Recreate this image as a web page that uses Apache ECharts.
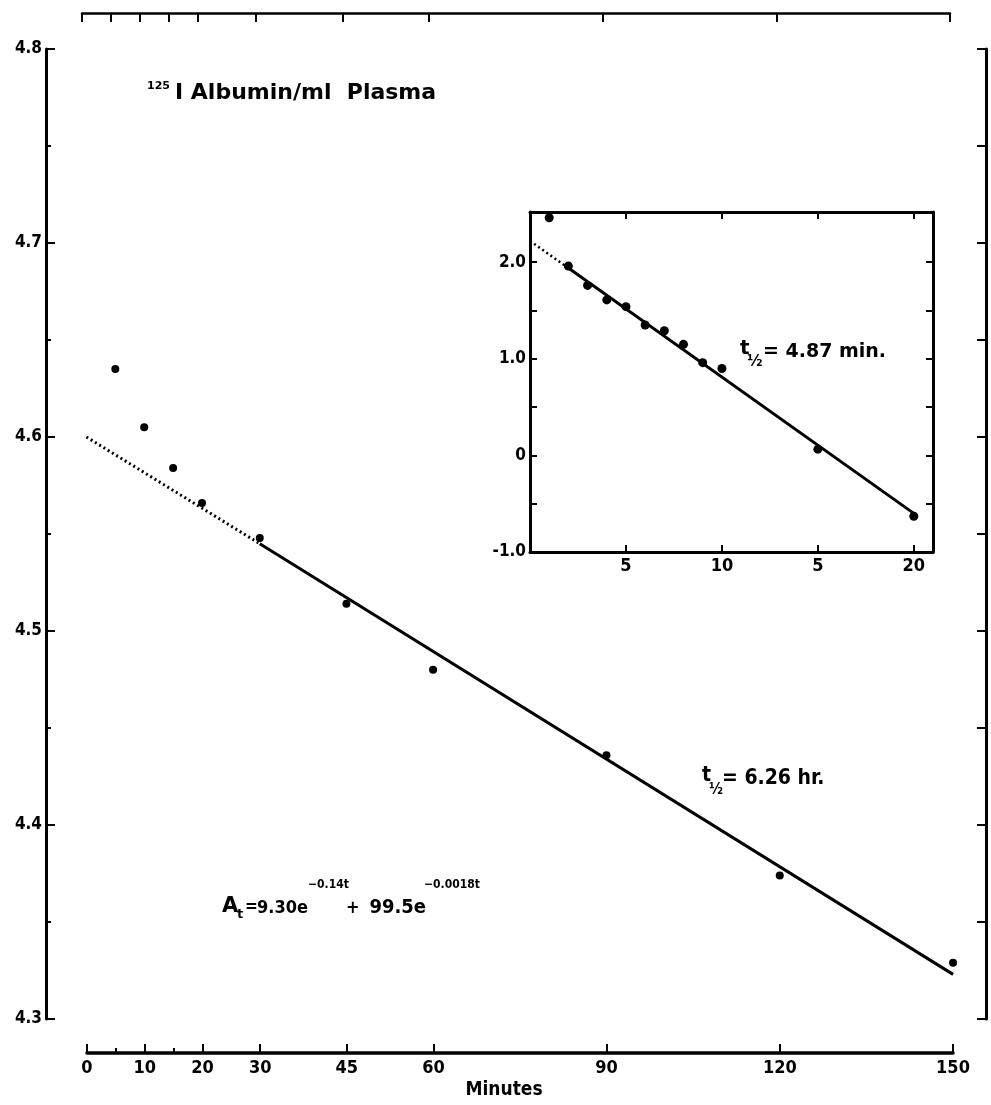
<!DOCTYPE html>
<html><head><meta charset="utf-8">
<script src="https://cdn.jsdelivr.net/npm/echarts@6/dist/echarts.min.js"></script>
<style>html,body{margin:0;padding:0;background:#fff}#c{width:991px;height:1105px}</style>
</head><body><div id="c"></div>
<script>
// ---- main plot data (ln 125I albumin / ml plasma vs minutes) ----
const mainMinutes = [5, 10, 15, 20, 30, 45, 60, 90, 120, 150];
const mainValues  = [4.635, 4.605, 4.584, 4.566, 4.548, 4.514, 4.480, 4.436, 4.374, 4.329];
const mainFitDotted = [[0, 4.600], [30, 4.545]];
const mainFitSolid  = [[30, 4.545], [150, 4.323]];
const mainMinorTicks = [4.35, 4.45, 4.55, 4.65, 4.75];
const timeTickValues  = [0, 5, 10, 15, 20, 30, 45, 60, 90, 120, 150];
const timeLabelValues = [0, 10, 20, 30, 45, 60, 90, 120, 150];
const timeMinorTicks  = [5, 15];

// ---- inset data ----
const insetMinutes = [1, 2, 3, 4, 5, 6, 7, 8, 9, 10, 15, 20];
const insetValues  = [2.46, 1.96, 1.76, 1.61, 1.54, 1.35, 1.29, 1.15, 0.96, 0.90, 0.065, -0.63];
const insetFitDotted = [[0, 2.22], [2, 1.94]];
const insetFitSolid  = [[2, 1.94], [20, -0.60]];
const insetXTickValues = [5, 10, 15, 20];
const insetXTickLabels = ['5', '10', '5', '20'];
const insetYTickValues = [-0.5, 0, 0.5, 1, 1.5, 2];
const insetYLabelValues = [-1, 0, 1, 2];
const insetYLabels = ['-1.0', '0', '1.0', '2.0'];

const WIDE = "'DejaVu Sans', sans-serif";
const COND = "'DejaVu Sans Condensed', 'DejaVu Sans', sans-serif";
const K = '#000';

const chart = echarts.init(document.getElementById('c'), null, {renderer: 'canvas'});

function txt(text, x, y, font, align) {
  return {
    type: 'text', x: x, y: y, z: 100,
    style: {text: text, fill: K, font: 'bold ' + font,
            textAlign: align || 'left', textVerticalAlign: 'middle'}
  };
}

const lineAxis = (w) => ({show: true, onZero: false, lineStyle: {color: K, width: w}});
const G = (o) => Object.assign({outerBoundsMode: 'none', containLabel: false}, o);
const hiddenY = (gi) => ({gridIndex: gi, type: 'value', min: 0, max: 1, show: false});
const hiddenX = (gi) => ({gridIndex: gi, type: 'value', min: 0, max: 1, show: false});
const tickStyle = {color: K, width: 2};

const option = {
  backgroundColor: '#fff',
  animation: false,
  grid: [
    G({left: 46, right: 5, top: 49, bottom: 86}),      // main
    G({left: 82, right: 41, top: 13, height: 30}),     // top time axis
    G({left: 87, right: 38, top: 1000, bottom: 52}),   // bottom time axis
    G({left: 87, right: 38, top: 1000, bottom: 52}),   // bottom minor ticks
    G({left: 530, right: 58, top: 212, bottom: 553}),  // inset
    G({left: 46, right: 5, top: 49, bottom: 86})       // main left minor ticks
  ],
  xAxis: [
    {gridIndex: 0, type: 'value', min: -7.0, max: 155.7, show: false},
    {gridIndex: 1, type: 'value', position: 'top', min: 0, max: 150,
     axisLine: lineAxis(2.5), splitLine: {show: false},
     axisTick: {show: true, inside: true, length: 9, lineStyle: tickStyle, customValues: timeTickValues},
     axisLabel: {show: false}},
    {gridIndex: 2, type: 'value', position: 'bottom', min: 0, max: 150,
     axisLine: lineAxis(3.5), splitLine: {show: false},
     axisTick: {show: true, inside: true, length: 9, lineStyle: tickStyle, customValues: timeLabelValues},
     axisLabel: {show: true, customValues: timeLabelValues, margin: 6, color: K,
                 fontFamily: COND, fontWeight: 'bold', fontSize: 18}},
    {gridIndex: 3, type: 'value', position: 'bottom', min: 0, max: 150,
     axisLine: {show: false, onZero: false}, splitLine: {show: false},
     axisTick: {show: true, inside: true, length: 5, lineStyle: tickStyle, customValues: timeMinorTicks},
     axisLabel: {show: false}},
    {gridIndex: 4, type: 'value', position: 'bottom', min: 0, max: 21,
     axisLine: lineAxis(3), splitLine: {show: false},
     axisTick: {show: true, inside: true, length: 7, lineStyle: tickStyle, customValues: insetXTickValues},
     axisLabel: {show: true, customValues: insetXTickValues, margin: 5, color: K,
                 fontFamily: COND, fontWeight: 'bold', fontSize: 18,
                 formatter: v => insetXTickLabels[insetXTickValues.indexOf(v)]}},
    {gridIndex: 4, type: 'value', position: 'top', min: 0, max: 21,
     axisLine: lineAxis(3), splitLine: {show: false},
     axisTick: {show: true, inside: true, length: 7, lineStyle: tickStyle, customValues: insetXTickValues},
     axisLabel: {show: false}},
    hiddenX(5)
  ],
  yAxis: [
    {gridIndex: 0, type: 'value', position: 'left', min: 4.3, max: 4.8, interval: 0.1,
     axisLine: lineAxis(3), splitLine: {show: false},
     axisTick: {show: true, inside: true, length: 9, lineStyle: tickStyle},
     axisLabel: {show: true, margin: 4, color: K, fontFamily: COND, fontWeight: 'bold', fontSize: 17,
                 formatter: v => v.toFixed(1)}},
    {gridIndex: 0, type: 'value', position: 'right', min: 4.3, max: 4.8, interval: 0.05,
     axisLine: lineAxis(3), splitLine: {show: false},
     axisTick: {show: true, inside: true, length: 9, lineStyle: tickStyle},
     axisLabel: {show: false}},
    {gridIndex: 4, type: 'value', position: 'left', min: -1, max: 2.52,
     axisLine: lineAxis(3), splitLine: {show: false},
     axisTick: {show: true, inside: true, length: 7, lineStyle: tickStyle, customValues: insetYTickValues},
     axisLabel: {show: true, customValues: insetYLabelValues, margin: 4, color: K,
                 fontFamily: COND, fontWeight: 'bold', fontSize: 17,
                 formatter: v => insetYLabels[insetYLabelValues.indexOf(v)]}},
    {gridIndex: 4, type: 'value', position: 'right', min: -1, max: 2.52,
     axisLine: lineAxis(3), splitLine: {show: false},
     axisTick: {show: true, inside: true, length: 7, lineStyle: tickStyle, customValues: insetYTickValues},
     axisLabel: {show: false}},
    hiddenY(1), hiddenY(2), hiddenY(3),
    {gridIndex: 5, type: 'value', position: 'left', min: 4.3, max: 4.8,
     axisLine: {show: false, onZero: false}, splitLine: {show: false},
     axisTick: {show: true, inside: true, length: 5, lineStyle: tickStyle, customValues: mainMinorTicks},
     axisLabel: {show: false}}
  ],
  series: [
    {type: 'scatter', xAxisIndex: 0, yAxisIndex: 0, symbol: 'circle', symbolSize: 8,
     itemStyle: {color: K, opacity: 1}, data: mainMinutes.map((m, i) => [m, mainValues[i]]), z: 5},
    {type: 'line', xAxisIndex: 0, yAxisIndex: 0, showSymbol: false, symbol: 'none',
     lineStyle: {color: K, width: 3, type: [2, 3]}, data: mainFitDotted},
    {type: 'line', xAxisIndex: 0, yAxisIndex: 0, showSymbol: false, symbol: 'none',
     lineStyle: {color: K, width: 3}, data: mainFitSolid},
    {type: 'scatter', xAxisIndex: 4, yAxisIndex: 2, symbol: 'circle', symbolSize: 9,
     itemStyle: {color: K, opacity: 1}, data: insetMinutes.map((m, i) => [m, insetValues[i]]), z: 5},
    {type: 'line', xAxisIndex: 4, yAxisIndex: 2, showSymbol: false, symbol: 'none',
     lineStyle: {color: K, width: 2.5, type: [2, 3]}, data: insetFitDotted},
    {type: 'line', xAxisIndex: 4, yAxisIndex: 2, showSymbol: false, symbol: 'none',
     lineStyle: {color: K, width: 3}, data: insetFitSolid}
  ],
  graphic: [
    // title
    txt('125', 147, 86, '11px ' + WIDE),
    txt('I Albumin/ml  Plasma', 175, 93, '22px ' + WIDE),
    // inset half-life
    txt('t', 740, 349, '20px ' + WIDE),
    txt('½', 747, 362, '15px ' + WIDE),
    txt('= 4.87 min.', 763, 352, '19px ' + WIDE),
    // main half-life
    txt('t', 702, 776, '21px ' + COND),
    txt('½', 709, 790, '15px ' + COND),
    txt('= 6.26 hr.', 722, 779, '21px ' + COND),
    // equation
    txt('A', 222, 907, '21px ' + WIDE),
    txt('t', 237, 915, '13px ' + WIDE),
    txt('=', 245, 908, '17px ' + COND),
    txt('9.30e', 308, 908, '18px ' + COND, 'right'),
    txt('−0.14t', 308, 885, '12px ' + COND),
    txt('+', 346, 908, '18px ' + COND),
    txt('99.5e', 426, 908, '20px ' + COND, 'right'),
    txt('−0.0018t', 424, 885, '12px ' + COND),
    // x-axis title
    txt('Minutes', 504, 1090, '19px ' + COND, 'center')
  ]
};
chart.setOption(option);
</script>
</body></html>
